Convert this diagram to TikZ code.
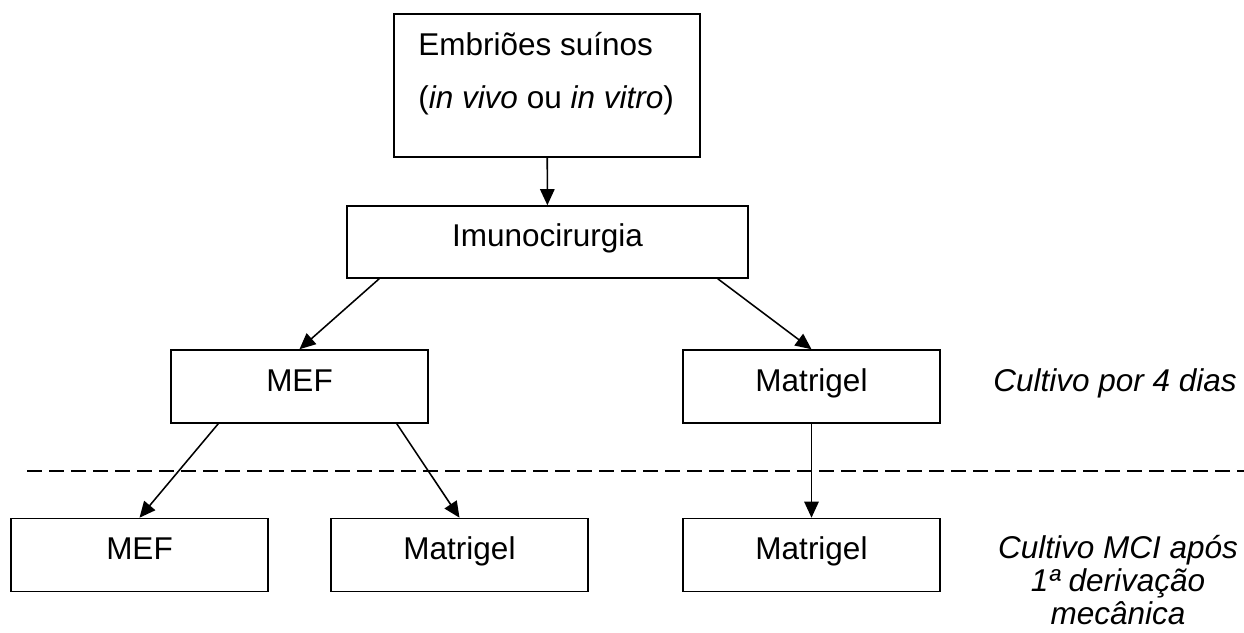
\documentclass[tikz,border=0pt]{standalone}
\usepackage{fontspec}
\setmainfont{Liberation Sans}
\usetikzlibrary{arrows.meta}

\begin{document}
\begin{tikzpicture}[x=0.025cm, y=-0.025cm, font=\fontsize{22.4}{22.7}\selectfont,
		caixa/.style={draw, line width=1.1pt, inner sep=0pt, minimum width=6.425cm, minimum height=1.825cm, text height=0.575cm, text depth=0.35cm},
		seta/.style={line width=1.1pt, arrows={-Triangle[length=4mm, width=3.6mm]}}]
		\useasboundingbox (0,0) rectangle (1244,632);

		\node[draw, line width=1.1pt, inner sep=0pt, minimum width=7.65cm, minimum height=3.575cm] (embrioes) at (547,85.5) {};
		\node[anchor=base west, inner sep=0pt] (embr1) at (418,55) {Embriões suínos};
		\node[anchor=base west, inner sep=0pt] (embr2) at (418,108) {(\textit{in vivo} ou \textit{in vitro})};

		\node[caixa, minimum width=10.025cm, minimum height=1.8cm] (imuno) at (547.5,242) {Imunocirurgia};
		\node[caixa] (mef1) at (299.5,386.5) {MEF};
		\node[caixa] (mat1) at (811.5,386.5) {Matrigel};
		\node[caixa] (mef2) at (139.5,555) {MEF};
		\node[caixa] (mat2) at (459.5,555) {Matrigel};
		\node[caixa] (mat3) at (811.5,555) {Matrigel};

		\node[anchor=base, inner sep=0pt] (rotulo1) at (1115,391) {\textit{Cultivo por 4 dias}};
		\node[anchor=north, align=center, inner sep=0pt, font=\fontsize{22.4}{23.5}\selectfont\itshape] (rotulo2) at (1118,535) {Cultivo MCI após\\1ª derivação\\mecânica};

		\draw[seta] (embrioes) -- (imuno);
		\draw[seta] ([xshift=0.825cm]imuno.south west) -- (mef1.north);
		\draw[seta] ([xshift=-0.775cm]imuno.south east) -- (mat1.north);
		\draw[seta] ([xshift=1.2cm]mef1.south west) -- (mef2.north);
		\draw[seta] ([xshift=-0.8cm]mef1.south east) -- (mat2.north);
		\draw[seta] (mat1) -- (mat3);

		% linha tracejada
		\coordinate (tracoE) at (27,471);
		\coordinate (tracoD) at (1244,471);
		\draw[line width=1.1pt, dash pattern=on 0.375cm off 0.175cm] (tracoE) -- (tracoD);
	\end{tikzpicture}
\end{document}
